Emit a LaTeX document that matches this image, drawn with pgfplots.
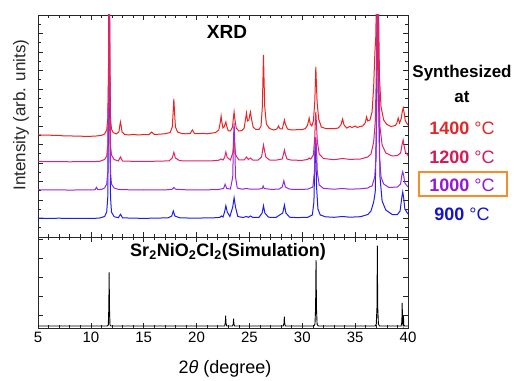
\documentclass[border=0pt]{standalone}
\usepackage{pgfplots}
\pgfplotsset{compat=1.18}
\usepackage{fontspec}
\setmainfont{Liberation Sans}
\definecolor{cRed}{RGB}{235,35,35}
\definecolor{cPink}{RGB}{228,35,95}
\definecolor{cPurple}{RGB}{150,40,225}
\definecolor{cBlue}{RGB}{30,30,235}
\definecolor{tRed}{RGB}{225,40,40}
\definecolor{tPink}{RGB}{215,25,85}
\definecolor{tPurple}{RGB}{145,25,215}
\definecolor{tBlue}{RGB}{20,20,205}
\definecolor{cOrange}{RGB}{245,140,40}
\pgfplotsset{
  panel/.style={
    scale only axis, width=370bp, xmin=5, xmax=40,
    axis line style={line width=0.8bp, black!85},
    every tick/.style={line width=0.6bp, black!85},
    major tick length=5bp, minor tick length=3bp,
    xtick={5,10,...,40}, minor x tick num=4,
    /pgf/number format/assume math mode=true,
    tick label style={font=\fontsize{15bp}{18bp}\selectfont},
    clip=true,
  }
}
\begin{document}
\begin{tikzpicture}[x=1bp,y=1bp]
\useasboundingbox (0,0) rectangle (514,380);
% ---------------- top panel ----------------
\begin{axis}[panel, at={(38bp,143bp)}, anchor=south west, height=222bp,
  ymin=0, ymax=222, ytick={0,18.5,...,222}, minor y tick num=1,
  xticklabels={}, yticklabels={}]
\addplot[cRed, line width=1bp] coordinates {
(5,102.3) (5.5,101.8) (6,102.0) (6.5,101.5) (7,101.6) (7.5,101.0) (8,101.2) (8.5,100.8) (9,100.9) (9.5,100.5) (10,100.7) (10.5,101.0) (11,101.6) (11.3,103) (11.5,107) (11.6,118) (11.67,170) (11.73,300) (11.8,170) (11.86,118) (11.95,108) (12.1,104.5) (12.4,103) (12.65,105) (12.73,111) (12.8,115) (12.87,111) (12.95,105) (13.2,102.5) (13.6,102.0) (14,102.6) (14.5,102.0) (15,102.5) (15.5,102.4) (15.74,105) (16,102.6) (16.5,102.8) (17,103.2) (17.5,104.5) (17.7,110) (17.78,124) (17.85,138) (17.92,124) (18.0,110) (18.2,105) (18.6,103.4) (19,103.2) (19.4,103.5) (19.6,107) (19.8,103.5) (20.2,103.3) (20.6,103.6) (21,103.2) (21.4,103.8) (21.8,104.5) (22.1,107) (22.25,115) (22.32,121) (22.4,114) (22.5,109) (22.6,110) (22.7,113) (22.77,115) (22.85,111) (23.0,106) (23.2,106) (23.4,110) (23.48,119) (23.55,125) (23.62,118) (23.75,109) (24.0,106) (24.3,106.5) (24.5,109) (24.62,117) (24.72,124) (24.82,116) (24.95,117) (25.03,122) (25.1,125) (25.18,119) (25.35,110) (25.6,107.5) (25.9,107.5) (26.1,111) (26.22,130) (26.28,158) (26.33,182) (26.38,158) (26.45,130) (26.6,113) (26.9,108.5) (27.3,107) (27.6,108) (27.75,111) (27.9,108) (28.1,108) (28.22,113) (28.31,117) (28.4,113) (28.6,108) (29,107) (29.5,107.3) (30,107.4) (30.3,108.5) (30.5,112) (30.65,119) (30.75,113) (30.9,111) (31.05,116) (31.18,135) (31.24,155) (31.28,170) (31.33,155) (31.4,135) (31.55,118) (31.8,110) (32.2,108.5) (32.6,108.3) (33,108.3) (33.4,109) (33.65,112) (33.81,118) (33.95,112) (34.2,109) (34.5,110.5) (34.7,109.5) (35.0,111) (35.2,109.5) (35.45,110.5) (35.7,111) (35.95,114) (36.08,120) (36.2,116) (36.4,117) (36.6,125) (36.75,150) (36.87,185) (36.95,200) (37.05,260) (37.12,300) (37.2,240) (37.3,160) (37.45,130) (37.7,117) (38.0,112.5) (38.4,110.5) (38.8,111.5) (38.95,114) (39.07,119) (39.2,114) (39.35,118) (39.47,126) (39.54,129) (39.62,125) (39.75,116) (40,112)
};
\addplot[cBlue, line width=1bp] coordinates {
(5,18.9) (6,18.6) (7,18.8) (8,18.5) (9,18.7) (10,18.5) (10.8,18.9) (11.3,20.5) (11.5,25) (11.6,40) (11.67,120) (11.73,300) (11.8,120) (11.86,40) (11.95,25) (12.2,20.3) (12.6,19.3) (12.8,22.7) (13.0,19.2) (14,18.8) (15,18.7) (16,18.8) (17.3,19.2) (17.65,21) (17.8,26) (17.95,21) (18.4,19.2) (19.5,18.9) (20.5,19.0) (21.5,19.1) (22.2,19.6) (22.35,21) (22.5,20) (22.65,25) (22.77,31.3) (22.9,25) (23.15,20.5) (23.42,30) (23.55,39.3) (23.68,30) (23.9,20.5) (24.4,19.5) (24.7,20.5) (24.9,19.7) (25.1,21) (25.3,19.7) (25.9,19.6) (26.2,24) (26.33,31.3) (26.46,24) (26.8,19.8) (27.5,19.5) (28.15,24) (28.31,32) (28.45,24) (28.8,19.8) (29.5,19.4) (30.5,19.7) (30.95,22) (31.1,35) (31.17,70) (31.22,95) (31.28,85) (31.35,50) (31.48,28) (31.7,22) (32.2,20.2) (33,19.7) (33.8,20.5) (34.5,19.8) (35.5,20.3) (36.2,22.5) (36.5,26) (36.75,35) (36.9,45) (37.02,120) (37.12,300) (37.22,150) (37.35,60) (37.55,36) (37.9,27) (38.5,22.5) (39.0,22.5) (39.25,26) (39.42,40) (39.5,45) (39.58,40) (39.7,28) (40,23)
};
\addplot[cPurple, line width=1bp] coordinates {
(5,47.3) (6,47.0) (7,47.2) (8,46.9) (9,47.1) (10,47.0) (10.4,47.3) (10.53,49.7) (10.65,47.4) (11.0,47.6) (11.3,49) (11.5,53) (11.6,65) (11.67,130) (11.73,300) (11.8,130) (11.86,65) (11.95,53) (12.2,49) (12.6,47.6) (13,47.3) (14,47.2) (15,47.0) (16,47.2) (17,47.0) (17.7,47.8) (17.85,49.5) (18.0,47.8) (19,47.2) (20,47.0) (21,47.2) (22,47.4) (22.55,48.5) (22.7,52.7) (22.85,48.5) (23.2,48) (23.42,60) (23.5,100) (23.55,114) (23.6,100) (23.68,60) (23.85,49) (24.3,47.8) (24.7,48.5) (25.1,47.8) (25.8,47.8) (26.2,48.5) (26.3,51) (26.4,48.5) (27,47.7) (27.8,47.8) (28.1,50) (28.25,56.3) (28.4,50) (28.8,47.8) (29.5,47.6) (30.5,47.8) (31.0,50) (31.15,65) (31.22,90) (31.28,100) (31.34,90) (31.42,65) (31.6,52) (32,48.6) (33,47.8) (33.8,48.5) (34.5,47.8) (35.5,48.2) (36.2,49) (36.4,50.3) (36.6,51) (36.85,60) (36.98,80) (37.06,150) (37.12,300) (37.2,150) (37.3,80) (37.45,60) (37.7,53) (38.2,49.5) (39.0,50) (39.3,53) (39.42,62) (39.5,65.3) (39.58,62) (39.7,54) (40,50)
};
\addplot[cPink, line width=1bp] coordinates {
(5,75.6) (6,75.3) (7,75.5) (8,75.2) (9,75.4) (10,75.3) (10.8,75.6) (11.3,77.5) (11.5,81) (11.6,92) (11.67,150) (11.73,300) (11.8,150) (11.86,92) (11.95,82) (12.2,77.5) (12.6,76) (12.8,80) (13.0,76) (13.5,75.8) (14.5,75.6) (15.5,75.7) (16.5,75.8) (17.4,76.2) (17.7,79) (17.85,84.7) (18.0,79) (18.4,76.3) (19.5,76.0) (20.5,76.1) (21.5,76.2) (22.1,76.8) (22.32,78) (22.5,77) (22.65,79.5) (22.77,85) (22.9,79.5) (23.2,77) (23.42,84) (23.5,92) (23.55,95) (23.6,92) (23.7,82) (24.0,77) (24.5,77) (24.72,80) (24.9,77.5) (25.1,79) (25.3,77) (25.8,76.8) (26.15,80) (26.25,87) (26.33,92) (26.42,87) (26.55,80) (26.9,77) (27.5,76.8) (28.1,78) (28.22,83) (28.31,87) (28.4,83) (28.55,78) (29,76.8) (30,76.7) (30.5,77.5) (30.65,79) (30.8,78) (31.05,82) (31.18,100) (31.24,118) (31.28,125) (31.33,115) (31.42,96) (31.6,83) (32,78.5) (33,77.3) (33.81,78.5) (34.5,77.6) (35.5,78) (36.2,80) (36.5,83) (36.75,95) (36.9,115) (37.02,170) (37.12,300) (37.22,170) (37.35,110) (37.55,92) (37.9,84) (38.5,81) (39.0,81.5) (39.3,84) (39.45,93) (39.54,97) (39.62,92) (39.75,85) (40,81.5)
};
\end{axis}
% ---------------- bottom panel ----------------
\begin{axis}[panel, at={(38bp,52bp)}, anchor=south west, height=91bp,
  ymin=0, ymax=91, ytick={13,32,51,70,89}, yticklabels={},
  xticklabel style={yshift=-1bp}]
\addplot[black, line width=0.9bp] coordinates {
(5,2) (11.55,2) (11.65,3) (11.7,20) (11.73,55.7) (11.76,20) (11.81,3) (11.9,2) (22.65,2) (22.72,5) (22.75,12.3) (22.78,5) (22.85,2) (23.4,2) (23.47,4) (23.5,9.3) (23.53,4) (23.6,2) (28.2,2) (28.27,4.5) (28.3,11.3) (28.33,4.5) (28.4,2) (31.1,2) (31.2,4) (31.26,20) (31.3,68) (31.34,20) (31.4,4) (31.5,2) (36.9,2) (37.0,4) (37.07,22) (37.1,82.3) (37.13,22) (37.2,4) (37.3,2) (39.35,2) (39.42,6) (39.45,25) (39.48,6) (39.53,3) (39.57,12) (39.6,3) (39.7,2) (40,2)
};
\end{axis}
% ---------------- texts ----------------
\node[font=\fontsize{18bp}{21bp}\selectfont] at (225,11) {2\textit{θ} (degree)};
\node[font=\fontsize{17bp}{20bp}\selectfont, rotate=90, text=black!85] at (21,265) {Intensity (arb. units)};
\node[font=\fontsize{19bp}{22bp}\selectfont\bfseries] at (227,348) {XRD};
\node[font=\fontsize{18bp}{21bp}\selectfont\bfseries] at (228,128) {Sr\textsubscript{2}NiO\textsubscript{2}Cl\textsubscript{2}(Simulation)};
\node[font=\fontsize{17bp}{20bp}\selectfont\bfseries] at (462,307) {Synthesized};
\node[font=\fontsize{17bp}{20bp}\selectfont\bfseries] at (462,283) {at};
\node[font=\fontsize{18bp}{21bp}\selectfont\bfseries, text=tRed] at (462,252) {1400 {\mdseries °C}};
\node[font=\fontsize{18bp}{21bp}\selectfont\bfseries, text=tPink] at (462,223) {1200 {\mdseries °C}};
\node[font=\fontsize{18bp}{21bp}\selectfont\bfseries, text=tPurple] at (462,195) {1000 {\mdseries °C}};
\node[font=\fontsize{18bp}{21bp}\selectfont\bfseries, text=tBlue] at (462,166) {900 {\mdseries °C}};
\draw[cOrange, line width=1.8bp] (419,184) rectangle (507,208);
\end{tikzpicture}
\end{document}
